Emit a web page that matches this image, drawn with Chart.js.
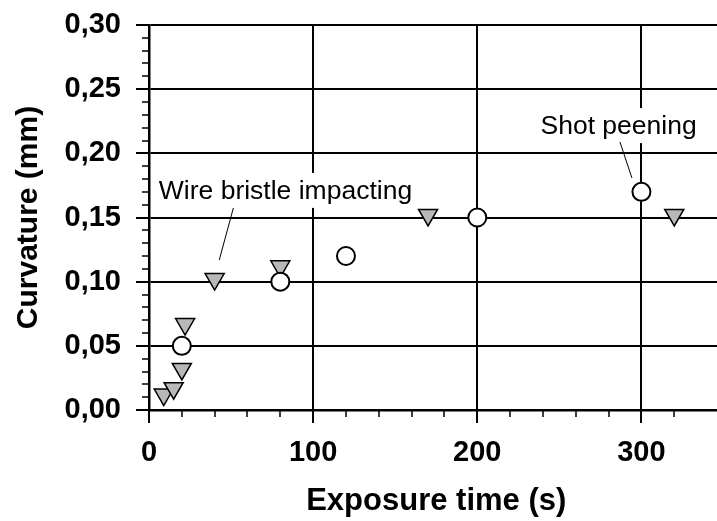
<!DOCTYPE html>
<html>
<head>
<meta charset="utf-8">
<script src="https://cdn.jsdelivr.net/npm/chart.js@4"></script>
<style>
html, body { margin: 0; padding: 0; overflow: hidden; background: #fff; }
canvas { display: block; }
</style>
</head>
<body>
<canvas id="chart" width="736" height="521"></canvas>
<script>
// values
const shotTime = [20, 80, 120, 200, 300];
const shotCurv = [0.05, 0.10, 0.12, 0.15, 0.17];
const wireTime = [9, 15, 20, 22, 40, 80, 170, 320];
const wireCurv = [0.012, 0.017, 0.032, 0.067, 0.102, 0.112, 0.152, 0.152];

const xMajor = 100, xMinor = 20;
const yMajor = 0.05, yMinor = 0.01;

const noteText = ['Wire bristle impacting', 'Shot peening'];
const noteAt = [[6, 0.1645], [238.5, 0.215]];
const leaderFrom = [[51.4, 0.1574], [286.9, 0.2089]];
const leaderTo = [[42.8, 0.1169], [294.2, 0.1808]];

const FONT = "'Liberation Sans', Arial, sans-serif";

function onStep(v, step) {
    const r = v / step;
    return Math.abs(r - Math.round(r)) < 1e-6;
}

// keep the plot area where the layout padding puts it
function noLabelPadding(s) {
    s.paddingLeft = 0;
    s.paddingRight = 0;
    s.paddingTop = 0;
    s.paddingBottom = 0;
}

const axisTicks = {
    id: 'axisTicks',
    afterDraw(chart) {
        const { ctx, chartArea: area, scales: { x, y } } = chart;
        ctx.save();
        ctx.strokeStyle = '#000';
        x.ticks.forEach(t => {
            if (!onStep(t.value, xMinor)) return;
            const major = onStep(t.value, xMajor);
            const px = Math.round(x.getPixelForValue(t.value));
            ctx.lineWidth = major ? 2 : 1.5;
            ctx.beginPath();
            ctx.moveTo(px, area.bottom);
            ctx.lineTo(px, area.bottom + (major ? 13 : 7));
            ctx.stroke();
        });
        y.ticks.forEach(t => {
            if (!onStep(t.value, yMinor)) return;
            const major = onStep(t.value, yMajor);
            const py = Math.round(y.getPixelForValue(t.value));
            ctx.lineWidth = major ? 2 : 1.5;
            ctx.beginPath();
            ctx.moveTo(area.left, py);
            ctx.lineTo(area.left - (major ? 13 : 7), py);
            ctx.stroke();
        });
        ctx.restore();
    }
};

const notes = {
    id: 'notes',
    afterDatasetsDraw(chart) {
        const { ctx, scales: { x, y } } = chart;
        ctx.save();
        ctx.font = '26.5px ' + FONT;
        ctx.textBaseline = 'alphabetic';
        noteText.forEach((text, i) => {
            const tx = x.getPixelForValue(noteAt[i][0]);
            const ty = y.getPixelForValue(noteAt[i][1]);
            const w = ctx.measureText(text).width;
            ctx.fillStyle = '#fff';
            ctx.fillRect(tx - 4, ty - 26, w + 8, 35);
            ctx.fillStyle = '#000';
            ctx.fillText(text, tx, ty);
            ctx.strokeStyle = '#000';
            ctx.lineWidth = 1;
            ctx.beginPath();
            ctx.moveTo(x.getPixelForValue(leaderFrom[i][0]), y.getPixelForValue(leaderFrom[i][1]));
            ctx.lineTo(x.getPixelForValue(leaderTo[i][0]), y.getPixelForValue(leaderTo[i][1]));
            ctx.stroke();
        });
        ctx.restore();
    }
};

const ctx = document.getElementById('chart').getContext('2d');

new Chart(ctx, {
    type: 'scatter',
    data: {
        datasets: [{
            label: 'Shot peening',
            data: shotTime.map((t, i) => ({ x: t, y: shotCurv[i] })),
            pointStyle: 'circle',
            pointRadius: 9,
            pointBackgroundColor: '#fff',
            pointBorderColor: '#000',
            pointBorderWidth: 2
        }, {
            label: 'Wire bristle impacting',
            data: wireTime.map((t, i) => ({ x: t, y: wireCurv[i] })),
            pointStyle: 'triangle',
            pointRotation: 180,
            pointRadius: 11,
            pointBackgroundColor: '#b8b8b8',
            pointBorderColor: '#000',
            pointBorderWidth: 1.5
        }]
    },
    options: {
        responsive: false,
        animation: false,
        events: [],
        layout: { padding: { top: 25, right: 1, left: 0, bottom: 0 } },
        plugins: {
            legend: { display: false },
            tooltip: { enabled: false }
        },
        scales: {
            x: {
                type: 'linear',
                min: 0,
                max: 350,
                afterFit: s => { s.height = 111; noLabelPadding(s); },
                border: { display: true, color: '#000', width: 2.5 },
                grid: {
                    drawTicks: false,
                    lineWidth: 2,
                    color: c => c.tick && c.tick.value > 0 && onStep(c.tick.value, xMajor) ? '#000' : 'transparent'
                },
                ticks: {
                    stepSize: xMinor,
                    autoSkip: false,
                    maxRotation: 0,
                    minRotation: 0,
                    padding: 28,
                    color: '#000',
                    font: { family: FONT, size: 29, weight: 'bold', lineHeight: 1 },
                    callback: v => onStep(v, xMajor) ? String(Math.round(v)) : ''
                },
                title: {
                    display: true,
                    text: 'Exposure time (s)',
                    color: '#000',
                    font: { family: FONT, size: 31, weight: 'bold', lineHeight: 1 },
                    padding: { top: 0, bottom: 4 }
                }
            },
            y: {
                min: 0,
                max: 0.3,
                afterFit: s => { s.width = 149; noLabelPadding(s); },
                border: { display: true, color: '#000', width: 2.5 },
                grid: {
                    drawTicks: false,
                    lineWidth: 2,
                    color: c => c.tick && c.tick.value > 0.001 && onStep(c.tick.value, yMajor) ? '#000' : 'transparent'
                },
                ticks: {
                    stepSize: yMinor,
                    autoSkip: false,
                    padding: 28,
                    color: '#000',
                    font: { family: FONT, size: 29, weight: 'bold', lineHeight: 1 },
                    callback: v => onStep(v, yMajor) ? v.toFixed(2).replace('.', ',') : ''
                },
                title: {
                    display: true,
                    text: 'Curvature (mm)',
                    color: '#000',
                    font: { family: FONT, size: 30, weight: 'bold', lineHeight: 1 },
                    padding: { top: 14, bottom: 0 }
                }
            }
        }
    },
    plugins: [axisTicks, notes]
});
</script>
</body>
</html>
